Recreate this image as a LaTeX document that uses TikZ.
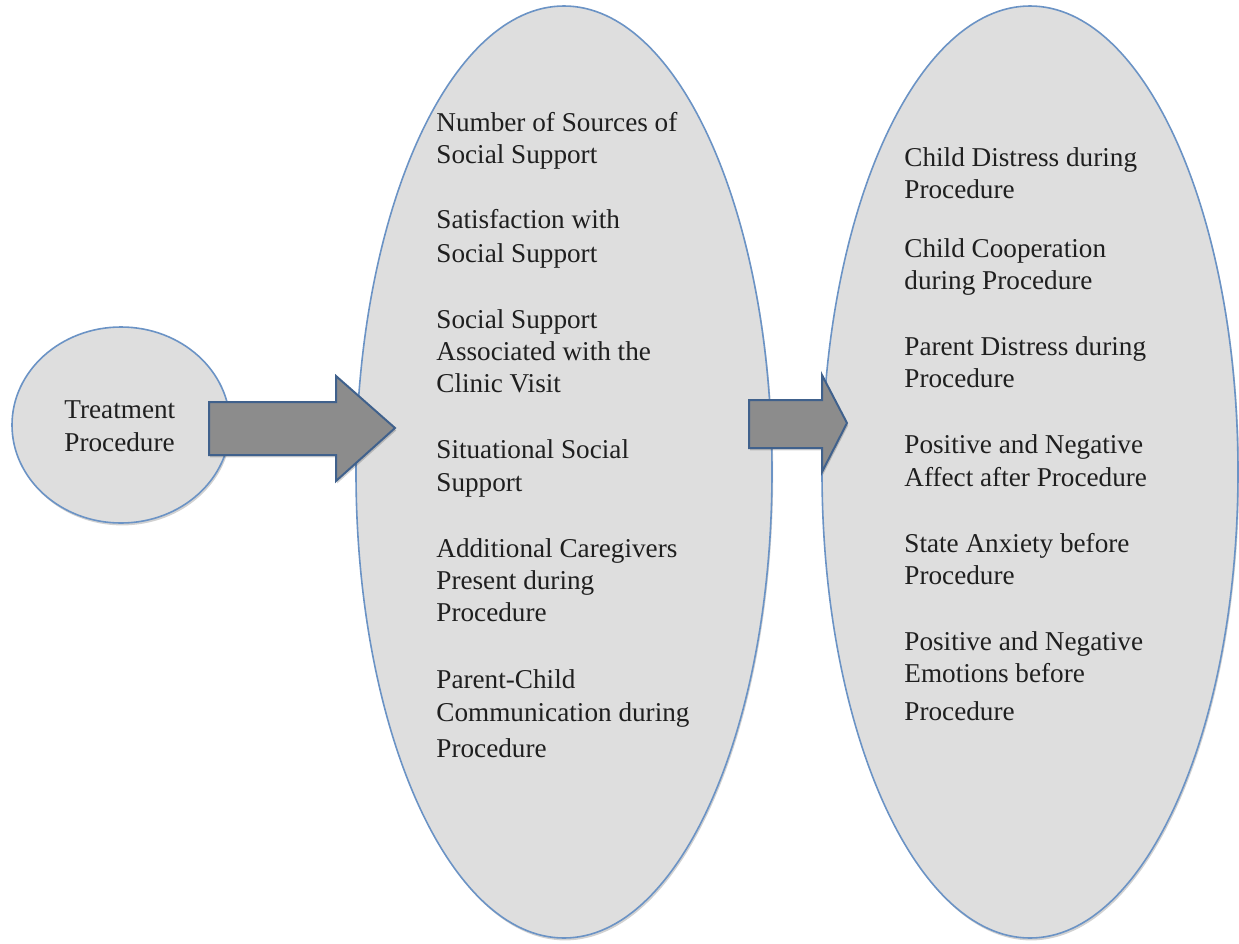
\documentclass[tikz,border=0pt]{standalone}
\usepackage{fontspec}
\setmainfont{Liberation Serif}
\usetikzlibrary{shadows}
\definecolor{ellfill}{HTML}{DEDEDE}
\definecolor{elldraw}{HTML}{6B93C5}
\definecolor{arrfill}{HTML}{8C8C8C}
\definecolor{arrdraw}{HTML}{40618C}
\tikzset{
  softshadow/.style={drop shadow={shadow xshift=0.6pt, shadow yshift=-1.2pt, opacity=0.18, fill=black}},
  oval/.style={draw=elldraw, fill=ellfill, line width=0.8pt, softshadow},
  blockarrow/.style={draw=arrdraw, fill=arrfill, line width=1pt, line join=miter, softshadow},
  txt/.style={anchor=base west, inner sep=0pt, font=\fontsize{13.6}{16}\selectfont, text=black!88}
}
\begin{document}
\begin{tikzpicture}[x=0.5pt, y=-0.5pt]
\useasboundingbox (0,0) rectangle (1239,944);
% ovals
\path[oval] (121,425) ellipse [x radius=109, y radius=98];
\path[oval] (564,472) ellipse [x radius=208, y radius=466];
\path[oval] (1030,472) ellipse [x radius=208, y radius=466];
% block arrows
\coordinate (a1) at (209,402);
\coordinate (a2) at (749,400);
\path[blockarrow] (a1) -- ++(127,0) -- ++(0,-26) -- ++(59,52) -- ++(-59,53) -- ++(0,-26) -- ++(-127,0) -- cycle;
\path[blockarrow] (a2) -- ++(73,0) -- ++(0,-25) -- ++(25,48) -- ++(-25,49) -- ++(0,-24) -- ++(-73,0) -- cycle;
% left text
\node[txt] (t1) at (64,418) {Treatment};
\node[txt] (t2) at (64,451) {Procedure};
% middle texts
\foreach \y/\s [count=\i] in {
  131/Number of Sources of, 163/Social Support,
  228/Satisfaction with, 262/Social Support,
  328/Social Support, 360/Associated with the, 392/Clinic Visit,
  458/Situational Social, 491/Support,
  557/Additional Caregivers, 589/Present during, 621/Procedure,
  688/Parent-Child, 721/Communication during, 757/Procedure}
  \node[txt] (m\i) at (436,\y) {\s};
% right texts
\foreach \y/\s [count=\i] in {
  166/Child Distress during, 198/Procedure,
  257/Child Cooperation, 289/during Procedure,
  355/Parent Distress during, 387/Procedure,
  453/Positive and Negative, 486/Affect after Procedure,
  552/State Anxiety before, 584/Procedure,
  650/Positive and Negative, 682/Emotions before, 720/Procedure}
  \node[txt] (r\i) at (904,\y) {\s};
\end{tikzpicture}
\end{document}
